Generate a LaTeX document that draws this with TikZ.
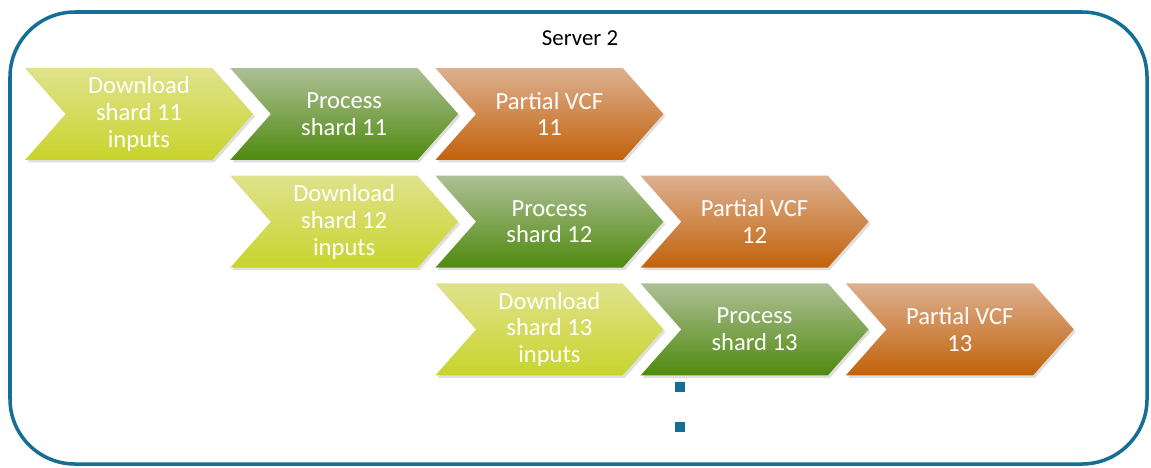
\documentclass[tikz,border=0pt]{standalone}
\usepackage{fontspec}
\setmainfont{Carlito}
\usetikzlibrary{arrows, positioning, shapes.symbols, shadows}

\definecolor{frame}{RGB}{20,110,150}
\definecolor{yelTop}{RGB}{224,226,140}
\definecolor{yelBot}{RGB}{200,212,44}
\definecolor{grnTop}{RGB}{174,191,150}
\definecolor{grnBot}{RGB}{79,138,14}
\definecolor{orgTop}{RGB}{221,176,144}
\definecolor{orgBot}{RGB}{194,98,10}

\begin{document}
\begin{tikzpicture}[x=0.02cm, y=-0.02cm]
		\tikzstyle{Chevron} = [signal, signal from=west, signal to=east, signal pointer angle=97, minimum width=4.56cm, minimum height=1.84cm, inner sep=0pt, align=center, text=white, font=\fontsize{14}{15.3}\selectfont, drop shadow={shadow xshift=0.4mm, shadow yshift=-0.5mm, opacity=0.25}]
		\tikzstyle{Download} = [Chevron, top color=yelTop, bottom color=yelBot]
		\tikzstyle{Process} = [Chevron, top color=grnTop, bottom color=grnBot]
		\tikzstyle{Partial} = [Chevron, top color=orgTop, bottom color=orgBot]
		\tikzstyle{Dot} = [rectangle, minimum size=0.2cm, inner sep=0pt, fill=frame]
		
		\useasboundingbox (0,0) rectangle (1151,467);
		\draw[frame, line width=2pt, rounded corners=1.3cm] (10,12) rectangle (1147,464);
		\node (title) at (580,38) {\fontsize{13}{15.3}\selectfont Server 2};
		
		% shard 11
		\node (d11) [Download] at (139,114) {Download\\shard 11\\inputs};
		\node (p11) [Process, right = 0.34cm of d11] {Process\\shard 11};
		\node (v11) [Partial, right = 0.34cm of p11] {Partial VCF\\11};
		% shard 12
		\node (d12) [Download, below = 0.3cm of p11] {Download\\shard 12\\inputs};
		\node (p12) [Process, right = 0.34cm of d12] {Process\\shard 12};
		\node (v12) [Partial, right = 0.34cm of p12] {Partial VCF\\12};
		% shard 13
		\node (d13) [Download, below = 0.3cm of p12] {Download\\shard 13\\inputs};
		\node (p13) [Process, right = 0.34cm of d13] {Process\\shard 13};
		\node (v13) [Partial, right = 0.34cm of p13] {Partial VCF\\13};
		
		\node (dot1) [Dot] at (680,387) {};
		\node (dot2) [Dot] at (680,427) {};
		\end{tikzpicture}
\end{document}
